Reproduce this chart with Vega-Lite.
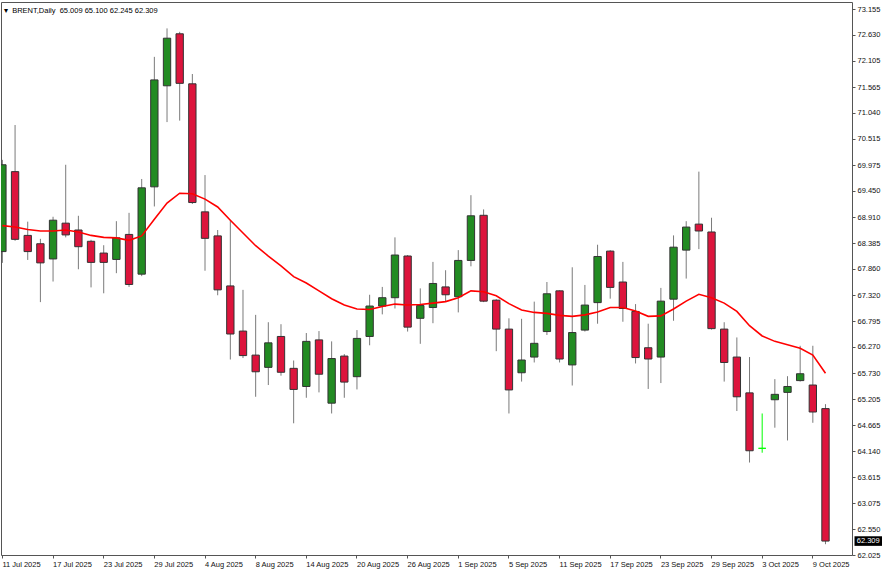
{
  "$schema": "https://vega.github.io/schema/vega-lite/v6.json",
  "width": 851,
  "height": 553,
  "autosize": {"type": "none"},
  "padding": {"left": 1, "top": 2, "right": 34, "bottom": 21},
  "background": "#ffffff",
  "config": {
    "view": {"stroke": "#555555", "strokeWidth": 1},
    "font": "Liberation Sans",
    "axis": {"labelOverlap": false, "labelBound": false, "labelFlush": false}
  },
  "title": {
    "text": "▾\u00a0\u00a0BRENT,Daily\u00a0\u00a065.009 65.100 62.245 62.309",
    "anchor": "start",
    "frame": "group",
    "orient": "top",
    "offset": -12,
    "dx": 3,
    "fontSize": 7.5,
    "fontWeight": "normal",
    "font": "Liberation Sans",
    "color": "#000000"
  },
  "data": {
    "values": [
      {"d": "11 Jul 2025", "o": 68.21, "h": 70.08, "l": 67.98, "c": 69.98, "ma": 68.74},
      {"d": "14 Jul 2025", "o": 69.84, "h": 70.79, "l": 68.43, "c": 68.46, "ma": 68.71},
      {"d": "15 Jul 2025", "o": 68.54, "h": 68.82, "l": 68.04, "c": 68.21, "ma": 68.66},
      {"d": "16 Jul 2025", "o": 68.37, "h": 68.47, "l": 67.18, "c": 67.98, "ma": 68.63},
      {"d": "17 Jul 2025", "o": 68.06, "h": 68.92, "l": 67.60, "c": 68.85, "ma": 68.63},
      {"d": "18 Jul 2025", "o": 68.79, "h": 69.98, "l": 68.50, "c": 68.55, "ma": 68.65},
      {"d": "21 Jul 2025", "o": 68.65, "h": 68.94, "l": 67.85, "c": 68.31, "ma": 68.61},
      {"d": "22 Jul 2025", "o": 68.42, "h": 68.45, "l": 67.48, "c": 67.99, "ma": 68.54},
      {"d": "23 Jul 2025", "o": 68.18, "h": 68.34, "l": 67.36, "c": 67.99, "ma": 68.50},
      {"d": "24 Jul 2025", "o": 68.05, "h": 68.83, "l": 67.77, "c": 68.49, "ma": 68.49},
      {"d": "25 Jul 2025", "o": 68.56, "h": 69.00, "l": 67.49, "c": 67.54, "ma": 68.44},
      {"d": "28 Jul 2025", "o": 67.75, "h": 69.69, "l": 67.71, "c": 69.51, "ma": 68.53},
      {"d": "29 Jul 2025", "o": 69.53, "h": 72.18, "l": 69.13, "c": 71.71, "ma": 68.87},
      {"d": "30 Jul 2025", "o": 71.59, "h": 72.76, "l": 70.85, "c": 72.56, "ma": 69.20},
      {"d": "31 Jul 2025", "o": 72.65, "h": 72.69, "l": 70.88, "c": 71.64, "ma": 69.40},
      {"d": "1 Aug 2025", "o": 71.63, "h": 71.83, "l": 69.18, "c": 69.21, "ma": 69.39},
      {"d": "4 Aug 2025", "o": 69.02, "h": 69.77, "l": 67.82, "c": 68.48, "ma": 69.28},
      {"d": "5 Aug 2025", "o": 68.53, "h": 68.65, "l": 67.32, "c": 67.43, "ma": 69.12},
      {"d": "6 Aug 2025", "o": 67.51, "h": 68.85, "l": 66.01, "c": 66.53, "ma": 68.85},
      {"d": "7 Aug 2025", "o": 66.59, "h": 67.43, "l": 66.04, "c": 66.09, "ma": 68.59},
      {"d": "8 Aug 2025", "o": 66.10, "h": 66.92, "l": 65.25, "c": 65.76, "ma": 68.33},
      {"d": "11 Aug 2025", "o": 65.85, "h": 66.77, "l": 65.49, "c": 66.35, "ma": 68.12},
      {"d": "12 Aug 2025", "o": 66.48, "h": 66.73, "l": 65.68, "c": 65.75, "ma": 67.92},
      {"d": "13 Aug 2025", "o": 65.83, "h": 65.99, "l": 64.71, "c": 65.40, "ma": 67.70},
      {"d": "14 Aug 2025", "o": 65.46, "h": 66.55, "l": 65.23, "c": 66.38, "ma": 67.57},
      {"d": "15 Aug 2025", "o": 66.41, "h": 66.59, "l": 65.34, "c": 65.71, "ma": 67.41},
      {"d": "18 Aug 2025", "o": 65.12, "h": 66.38, "l": 64.91, "c": 66.03, "ma": 67.25},
      {"d": "19 Aug 2025", "o": 66.08, "h": 66.12, "l": 65.23, "c": 65.55, "ma": 67.12},
      {"d": "20 Aug 2025", "o": 65.66, "h": 66.61, "l": 65.40, "c": 66.44, "ma": 67.04},
      {"d": "21 Aug 2025", "o": 66.48, "h": 67.33, "l": 66.30, "c": 67.10, "ma": 67.03},
      {"d": "22 Aug 2025", "o": 67.10, "h": 67.49, "l": 66.93, "c": 67.27, "ma": 67.09},
      {"d": "25 Aug 2025", "o": 67.27, "h": 68.50, "l": 67.05, "c": 68.14, "ma": 67.14},
      {"d": "26 Aug 2025", "o": 68.12, "h": 68.14, "l": 66.58, "c": 66.67, "ma": 67.12},
      {"d": "27 Aug 2025", "o": 66.85, "h": 67.46, "l": 66.33, "c": 67.11, "ma": 67.13},
      {"d": "28 Aug 2025", "o": 67.07, "h": 68.00, "l": 66.75, "c": 67.56, "ma": 67.16},
      {"d": "29 Aug 2025", "o": 67.49, "h": 67.83, "l": 67.19, "c": 67.33, "ma": 67.19},
      {"d": "1 Sep 2025", "o": 67.29, "h": 68.24, "l": 66.97, "c": 68.03, "ma": 67.27},
      {"d": "2 Sep 2025", "o": 68.03, "h": 69.36, "l": 67.91, "c": 68.94, "ma": 67.41},
      {"d": "3 Sep 2025", "o": 68.95, "h": 69.07, "l": 67.18, "c": 67.20, "ma": 67.39},
      {"d": "4 Sep 2025", "o": 67.22, "h": 67.24, "l": 66.18, "c": 66.63, "ma": 67.31},
      {"d": "5 Sep 2025", "o": 66.63, "h": 66.85, "l": 64.91, "c": 65.39, "ma": 67.15},
      {"d": "8 Sep 2025", "o": 65.74, "h": 66.84, "l": 65.56, "c": 66.00, "ma": 67.02},
      {"d": "9 Sep 2025", "o": 66.06, "h": 67.19, "l": 65.95, "c": 66.34, "ma": 66.97},
      {"d": "10 Sep 2025", "o": 66.58, "h": 67.59, "l": 66.51, "c": 67.35, "ma": 66.95},
      {"d": "11 Sep 2025", "o": 67.41, "h": 67.42, "l": 65.95, "c": 66.02, "ma": 66.91},
      {"d": "12 Sep 2025", "o": 65.90, "h": 67.89, "l": 65.48, "c": 66.56, "ma": 66.89},
      {"d": "15 Sep 2025", "o": 66.61, "h": 67.53, "l": 66.58, "c": 67.12, "ma": 66.92},
      {"d": "16 Sep 2025", "o": 67.17, "h": 68.35, "l": 66.74, "c": 68.11, "ma": 66.98},
      {"d": "17 Sep 2025", "o": 68.22, "h": 68.24, "l": 67.25, "c": 67.48, "ma": 67.07},
      {"d": "18 Sep 2025", "o": 67.59, "h": 68.00, "l": 66.78, "c": 67.05, "ma": 67.07},
      {"d": "19 Sep 2025", "o": 66.99, "h": 67.14, "l": 65.93, "c": 66.05, "ma": 67.00},
      {"d": "22 Sep 2025", "o": 66.25, "h": 66.74, "l": 65.41, "c": 66.02, "ma": 66.89},
      {"d": "23 Sep 2025", "o": 66.06, "h": 67.47, "l": 65.53, "c": 67.20, "ma": 66.90},
      {"d": "24 Sep 2025", "o": 67.24, "h": 68.54, "l": 66.80, "c": 68.30, "ma": 67.04},
      {"d": "25 Sep 2025", "o": 68.24, "h": 68.83, "l": 67.66, "c": 68.71, "ma": 67.20},
      {"d": "26 Sep 2025", "o": 68.77, "h": 69.84, "l": 68.26, "c": 68.63, "ma": 67.34},
      {"d": "29 Sep 2025", "o": 68.61, "h": 68.90, "l": 66.62, "c": 66.64, "ma": 67.27},
      {"d": "30 Sep 2025", "o": 66.63, "h": 66.77, "l": 65.56, "c": 65.95, "ma": 67.16},
      {"d": "1 Oct 2025", "o": 66.06, "h": 66.46, "l": 64.96, "c": 65.25, "ma": 66.99},
      {"d": "2 Oct 2025", "o": 65.33, "h": 66.06, "l": 63.91, "c": 64.15, "ma": 66.70},
      {"d": "3 Oct 2025", "o": 64.20, "h": 64.91, "l": 64.11, "c": 64.20, "ma": 66.49},
      {"d": "6 Oct 2025", "o": 65.19, "h": 65.61, "l": 64.62, "c": 65.30, "ma": 66.38},
      {"d": "7 Oct 2025", "o": 65.34, "h": 65.67, "l": 64.36, "c": 65.46, "ma": 66.31},
      {"d": "8 Oct 2025", "o": 65.58, "h": 66.29, "l": 65.56, "c": 65.72, "ma": 66.24},
      {"d": "9 Oct 2025", "o": 65.49, "h": 66.29, "l": 64.72, "c": 64.94, "ma": 66.10},
      {"d": "10 Oct 2025", "o": 65.009, "h": 65.100, "l": 62.245, "c": 62.309, "ma": 65.73}
    ]
  },
  "encoding": {
    "x": {
      "field": "d",
      "type": "ordinal",
      "sort": null,
      "scale": {"type": "band", "range": [-2.27, 828.17], "paddingInner": 0.42, "paddingOuter": 0, "align": 0},
      "axis": {
        "title": null,
        "values": ["11 Jul 2025", "17 Jul 2025", "23 Jul 2025", "29 Jul 2025", "4 Aug 2025", "8 Aug 2025", "14 Aug 2025", "20 Aug 2025", "26 Aug 2025", "1 Sep 2025", "5 Sep 2025", "11 Sep 2025", "17 Sep 2025", "23 Sep 2025", "29 Sep 2025", "3 Oct 2025", "9 Oct 2025"],
        "domain": false,
        "grid": false,
        "bandPosition": 0.5,
        "tickSize": 3,
        "tickColor": "#555555",
        "labelAngle": 0,
        "labelAlign": "left",
        "labelBaseline": "top",
        "labelPadding": 2,
        "labelFontSize": 7.5,
        "labelFont": "Liberation Sans",
        "labelColor": "#111111"
      }
    }
  },
  "layer": [
    {
      "mark": {"type": "rule", "strokeWidth": 1, "clip": true},
      "encoding": {
        "y": {
          "field": "l",
          "type": "quantitative",
          "scale": {"domain": [62.025, 73.298], "zero": false, "nice": false},
          "axis": {
            "orient": "right",
            "title": null,
            "values": [73.155, 72.63, 72.105, 71.565, 71.04, 70.515, 69.975, 69.45, 68.91, 68.385, 67.86, 67.32, 66.795, 66.27, 65.73, 65.205, 64.665, 64.14, 63.615, 63.075, 62.55, 62.025],
            "tickCount": 40,
            "format": ".3f",
            "domain": false,
            "grid": false,
            "tickSize": 3,
            "tickColor": "#555555",
            "labelPadding": 2,
            "labelFontSize": 7.5,
            "labelFont": "Liberation Sans",
            "labelColor": "#111111"
          }
        },
        "y2": {"field": "h"},
        "color": {"condition": {"test": "datum.c == datum.o", "value": "#00ff00"}, "value": "#7a7a7a"}
      }
    },
    {
      "mark": {"type": "bar", "strokeWidth": 1, "clip": true},
      "encoding": {
        "y": {"field": "o", "type": "quantitative"},
        "y2": {"field": "c"},
        "fill": {"condition": {"test": "datum.c > datum.o", "value": "#228b22"}, "value": "#dc143c"},
        "stroke": {"condition": {"test": "datum.c == datum.o", "value": "#00ff00"}, "value": "#333333"}
      }
    },
    {
      "mark": {"type": "line", "color": "#ff0000", "strokeWidth": 1.6, "clip": true},
      "encoding": {
        "y": {"field": "ma", "type": "quantitative"}
      }
    },
    {
      "transform": [{"filter": "datum.d == '10 Oct 2025'"}],
      "mark": {"type": "point", "shape": "M2.9,-0.48L5.65,-0.48L5.65,0.48L2.9,0.48Z", "size": 400, "filled": true, "color": "#000000", "opacity": 1},
      "encoding": {
        "y": {"field": "c", "type": "quantitative"}
      }
    },
    {
      "transform": [{"filter": "datum.d == '10 Oct 2025'"}],
      "mark": {"type": "text", "dx": 42.7, "align": "center", "baseline": "middle", "fontSize": 7.5, "font": "Liberation Sans", "color": "#ffffff"},
      "encoding": {
        "y": {"field": "c", "type": "quantitative"},
        "text": {"field": "c", "type": "quantitative", "format": ".3f"}
      }
    }
  ]
}
